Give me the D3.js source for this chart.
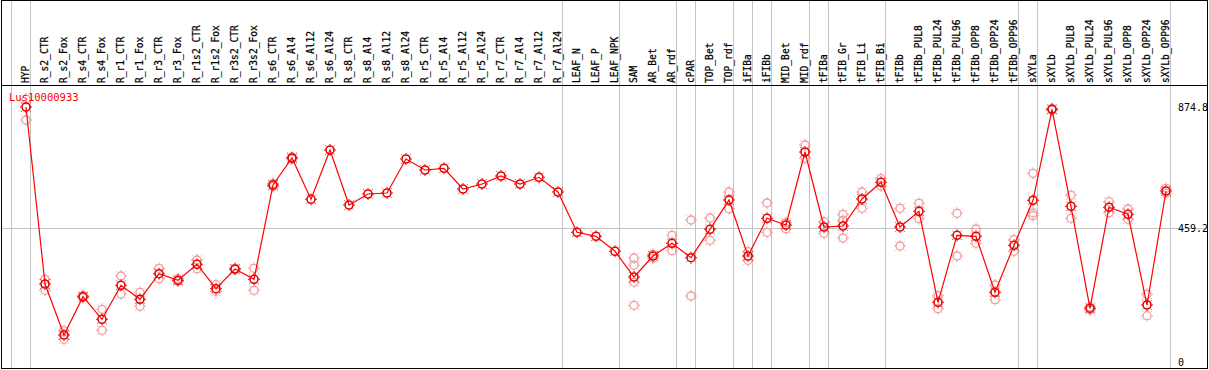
<!DOCTYPE html>
<html>
<head>
<meta charset="utf-8">
<script src="https://cdn.jsdelivr.net/npm/d3@7"></script>
<style>
  body { margin: 0; background: #fff; }
  svg { display: block; }
  text { font-family: "DejaVu Sans Mono", monospace; }
</style>
</head>
<body>
<div id="viz"></div>
<script>
// samples along the x axis
const samples = ['HYP', 'R_s2_CTR', 'R_s2_Fox', 'R_s4_CTR', 'R_s4_Fox', 'R_r1_CTR', 'R_r1_Fox',
  'R_r3_CTR', 'R_r3_Fox', 'R_r1s2_CTR', 'R_r1s2_Fox', 'R_r3s2_CTR', 'R_r3s2_Fox', 'R_s6_CTR',
  'R_s6_Al4', 'R_s6_Al12', 'R_s6_Al24', 'R_s8_CTR', 'R_s8_Al4', 'R_s8_Al12', 'R_s8_Al24',
  'R_r5_CTR', 'R_r5_Al4', 'R_r5_Al12', 'R_r5_Al24', 'R_r7_CTR', 'R_r7_Al4', 'R_r7_Al12',
  'R_r7_Al24', 'LEAF_N', 'LEAF_P', 'LEAF_NPK', 'SAM', 'AR_Bet', 'AR_rdf', 'cPAR', 'TOP_Bet',
  'TOP_rdf', 'iFIBa', 'iFIBb', 'MID_Bet', 'MID_rdf', 'tFIBa', 'tFIB_Gr', 'tFIB_Li', 'tFIB_Bi',
  'tFIBb', 'tFIBb_PUL8', 'tFIBb_PUL24', 'tFIBb_PUL96', 'tFIBb_OPP8', 'tFIBb_OPP24', 'tFIBb_OPP96',
  'sXYLa', 'sXYLb', 'sXYLb_PUL8', 'sXYLb_PUL24', 'sXYLb_PUL96', 'sXYLb_OPP8', 'sXYLb_OPP24',
  'sXYLb_OPP96']

// mean expression per sample
const means = [874.8, 267.6, 92.6, 224.0, 146.5, 263.1, 215.1, 302.9, 280.3, 335.2, 251.5, 319.0,
  283.7, 607.2, 699.8, 558.2, 727.3, 538.6, 576.3, 579.8, 696.4, 658.7, 664.5, 593.5, 610.6,
  638.1, 610.6, 633.6, 583.2, 444.9, 431.2, 379.8, 291.6, 363.6, 407.2, 357.8, 455.2, 555.8,
  363.6, 493.0, 470.0, 720.4, 463.1, 466.6, 559.2, 616.5, 463.1, 517.0, 204.8, 434.7, 431.2,
  239.1, 400.4, 554.7, 866.9, 534.1, 184.2, 530.7, 506.7, 195.5, 586.6]

// replicate values per sample
const replicates = [
  [902.3, 830.2], [283.7, 246.0], [107.4, 77.9], [228.1, 221.3], [180.8, 108.7], [295.0, 233.3],
  [239.1, 191.1], [321.4, 285.8], [285.8, 276.8], [349.9, 320.1], [265.2, 242.5], [321.4, 316.6],
  [321.4, 246.0], [612.4, 602.1], [703.3, 696.4], [], [], [], [], [], [], [], [], [], [], [], [],
  [], [], [], [], [], [356.8, 331.7, 273.4, 194.5], [369.5, 355.8], [434.7, 381.8],
  [487.1, 226.4], [494.0, 417.5], [583.2, 525.9], [378.4, 348.9], [545.5, 444.9], [477.9, 457.3],
  [744.4, 698.8], [481.3, 441.5], [506.7, 486.1, 425.4], [583.2, 527.3], [628.8, 603.8],
  [527.3, 397.9], [544.4, 491.6], [227.4, 182.9], [510.1, 363.6], [456.3, 407.2], [264.2, 213.7],
  [419.6, 379.8], [647.4, 511.2, 501.9], [869.7, 864.5], [571.9, 493.0], [189.7, 178.4],
  [549.9, 512.2], [524.9, 489.5], [232.3, 158.8], [595.9, 578.7]]

// group separators: sample that starts a new group
const groupStarts = ['HYP', 'R_s2_CTR', 'LEAF_N', 'SAM', 'cPAR', 'TOP_Bet', 'iFIBa', 'iFIBb',
  'MID_Bet', 'tFIBa', 'tFIB_Gr', 'tFIBb', 'sXYLa', 'sXYLb']

const yTicks = [0, 459.2, 874.8]
const title = 'Lus10000933'

const width = 1209
const height = 370

let svg = d3.select('#viz')
  .append('svg')
    .attr('width', width)
    .attr('height', height)

let x = d3.scaleBand()
  .domain(samples)
  .range([11, 1170])

let y = d3.scaleLinear()
  .domain([0, 874.8])
  .range([362, 107])

const px = d => x(d) + 15

// gray grid
svg.append('g')
  .selectAll('line')
  .data(groupStarts)
  .join('line')
    .attr('x1', d => x(d) + 0.5)
    .attr('x2', d => x(d) + 0.5)
    .attr('y1', 0)
    .attr('y2', 369)
    .attr('stroke', '#c4c4c4')

svg.append('line')
  .attr('x1', x.range()[1] + 0.5)
  .attr('x2', x.range()[1] + 0.5)
  .attr('y1', 0)
  .attr('y2', 369)
  .attr('stroke', '#c4c4c4')

svg.append('line')
  .attr('x1', 1)
  .attr('x2', 1207)
  .attr('y1', Math.round(y(459.2)) + 0.5)
  .attr('y2', Math.round(y(459.2)) + 0.5)
  .attr('stroke', '#c4c4c4')

// frame
svg.append('rect')
  .attr('x', 1.5)
  .attr('y', 0.5)
  .attr('width', 1206)
  .attr('height', 368)
  .attr('fill', 'none')
  .attr('stroke', '#000')

svg.append('line')
  .attr('x1', 1)
  .attr('x2', 1208)
  .attr('y1', 85.5)
  .attr('y2', 85.5)
  .attr('stroke', '#000')

// header labels
svg.append('g')
  .selectAll('text')
  .data(samples)
  .join('text')
    .attr('transform', d => 'translate(' + [x(d) + 18, 83] + ') rotate(-90)')
    .attr('text-anchor', 'start')
    .attr('font-size', '9.6px')
    .attr('fill', '#000')
    .attr('stroke', '#000')
    .attr('stroke-width', 0.25)
    .text(d => d)

// right axis
let axis = svg.append('g')
  .attr('transform', 'translate(1178,0)')
  .call(d3.axisRight(y).tickValues(yTicks).tickSize(0).tickPadding(0)
    .tickFormat(d => d === 0 ? '0' : d3.format('.1f')(d)))
axis.select('.domain').remove()
axis.selectAll('text')
  .attr('font-family', '"DejaVu Sans Mono", monospace')
  .attr('font-size', '10px')
  .attr('fill', '#000')

// marker with little ticks round it
function marker(sel, color, sw) {
  sel.append('circle')
    .attr('r', 4)
    .attr('fill', 'none')
    .attr('stroke', color)
    .attr('stroke-width', sw)
  sel.append('path')
    .attr('d', 'M0,-6V-4.5M0,4.5V6M-6,0H-4.5M4.5,0H6M-4.6,-4.6L-3.8,-3.8M4.6,-4.6L3.8,-3.8M-4.6,4.6L-3.8,3.8M4.6,4.6L3.8,3.8')
    .attr('stroke', color)
    .attr('stroke-width', 1)
}

// replicates
let reps = samples.flatMap((s, i) => replicates[i].map(v => ({s, v})))
svg.append('g')
  .selectAll('g')
  .data(reps)
  .join('g')
    .attr('transform', d => 'translate(' + [px(d.s), y(d.v)] + ')')
    .each(function() { marker(d3.select(this), '#f09a9a', 1.3) })

// mean line
svg.append('path')
  .datum(means)
  .attr('fill', 'none')
  .attr('stroke', '#ff0000')
  .attr('stroke-width', 1.2)
  .attr('d', d3.line().x((d, i) => px(samples[i])).y(d => y(d)))

svg.append('g')
  .selectAll('g')
  .data(means)
  .join('g')
    .attr('transform', (d, i) => 'translate(' + [px(samples[i]), y(d)] + ')')
    .each(function() { marker(d3.select(this), '#e80000', 1.6) })

// title
svg.append('text')
  .attr('x', 9)
  .attr('y', 101)
  .attr('font-size', '10.5px')
  .attr('fill', '#ff0000')
  .text(title)
</script>
</body>
</html>
